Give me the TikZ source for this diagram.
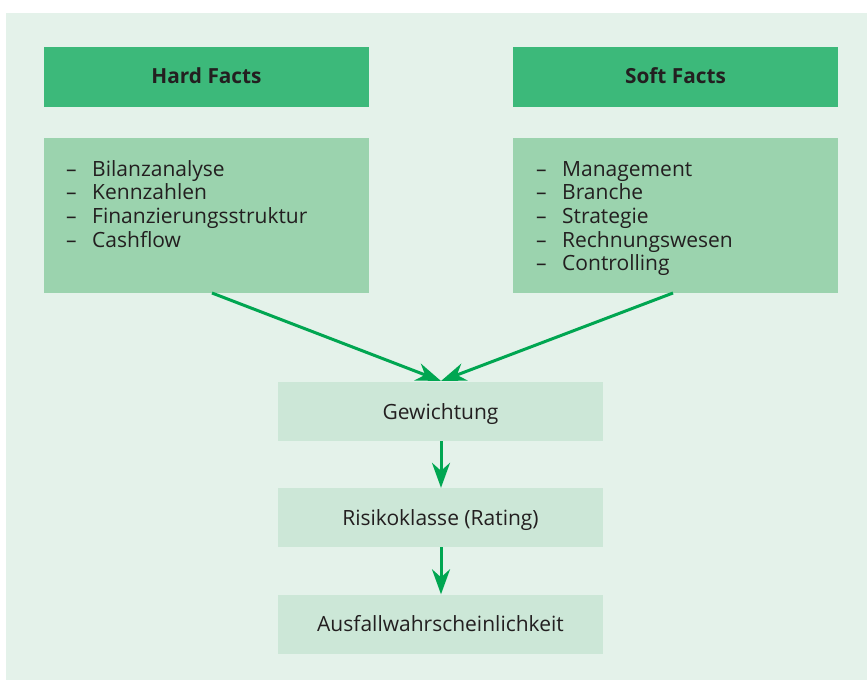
\documentclass[tikz,border=0pt]{standalone}
\usepackage{fontspec}
\setmainfont{Open Sans}
\usetikzlibrary{arrows.meta}
\definecolor{panel}{HTML}{E4F2EA}
\definecolor{headgreen}{HTML}{3CB97A}
\definecolor{listgreen}{HTML}{9BD3AE}
\definecolor{stepgreen}{HTML}{CCE7D7}
\definecolor{arrowgreen}{HTML}{00A651}
\definecolor{ink}{HTML}{231F20}
\begin{document}
\begin{tikzpicture}[x=1pt,y=-1pt,
  header/.style={fill=headgreen,minimum width=325pt,minimum height=60pt,inner sep=0pt,
    text height=15pt,text depth=3pt,
    font=\fontsize{20.8}{24}\selectfont\bfseries,text=ink},
  listbox/.style={fill=listgreen,minimum width=325pt,minimum height=155pt,anchor=north west,inner sep=0pt},
  item/.style={anchor=base west,inner sep=0pt,font=\fontsize{21}{24}\selectfont,text=ink},
  stepbox/.style={fill=stepgreen,minimum width=325pt,minimum height=59pt,inner sep=0pt,
    text height=15pt,text depth=0pt,
    font=\fontsize{21}{24}\selectfont,text=ink},
  flow/.style={draw=arrowgreen,line width=3pt,-{Stealth[length=25pt,width=18pt,inset=8pt]}}
]
\useasboundingbox (0,0) rectangle (867,680);
\fill[panel] (6,13) rectangle (867,680);

% column headers
\node[header] (hard) at (206.5,77) {Hard Facts};
\node[header] (soft) at (675.5,77) {Soft Facts};

% bullet lists
\node[listbox] (hardlist) at (44,138) {};
\node[listbox] (softlist) at (513,138) {};

\foreach \txt [count=\i] in {Bilanzanalyse,Kennzahlen,Finanzierungsstruktur,Cashflow}{
  \node[item] (harddash\i) at (66,{176+23.7*(\i-1)}) {–};
  \node[item] (harditem\i) at (92,{176+23.7*(\i-1)}) {\txt};
}
\foreach \txt [count=\i] in {Management,Branche,Strategie,Rechnungswesen,Controlling}{
  \node[item] (softdash\i) at (536,{176+23.7*(\i-1)}) {–};
  \node[item] (softitem\i) at (562,{176+23.7*(\i-1)}) {\txt};
}

% rating steps
\node[stepbox] (gew) at (440.5,411.5) {Gewichtung};
\node[stepbox] (risk) at (440.5,517.5) {Risikoklasse (Rating)};
\node[stepbox] (ausf) at (440.5,624) {Ausfallwahrscheinlichkeit};

\coordinate (hardout) at (212,293);
\coordinate (softout) at (673,293);
\coordinate (join) at (441,381);

\draw[flow] (hardout) -- (join);
\draw[flow] (softout) -- (join);
\draw[flow] (gew.south -| join) -- (risk.north -| join);
\draw[flow] (risk.south -| join) -- (ausf.north -| join);
\end{tikzpicture}
\end{document}
